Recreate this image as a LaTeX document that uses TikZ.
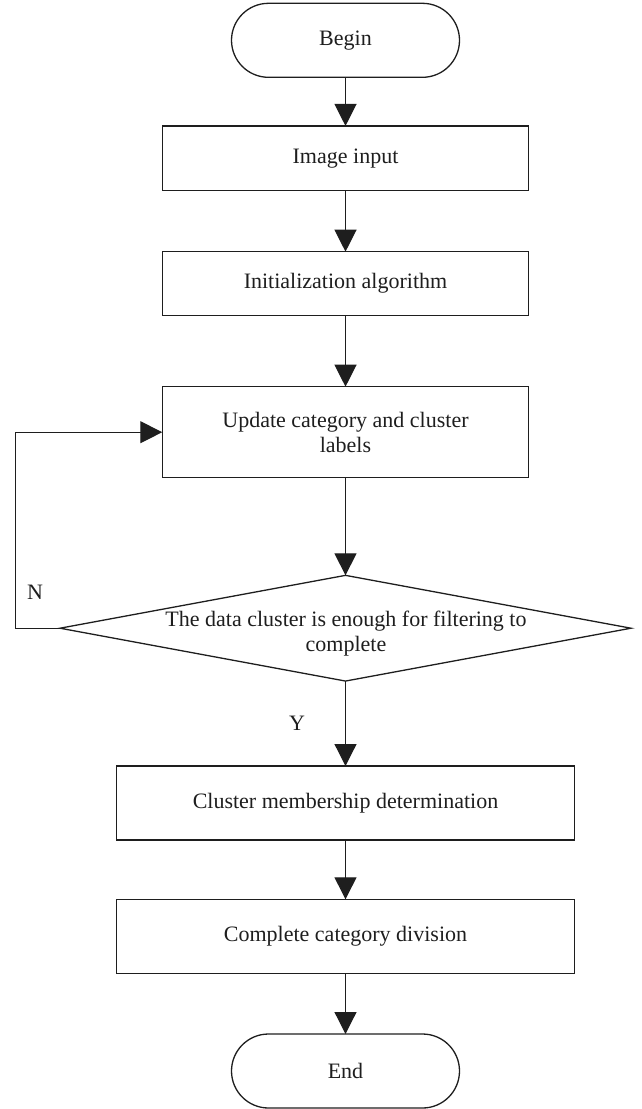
\documentclass[tikz,border=0pt]{standalone}
\usepackage{fontspec}
\setmainfont{Liberation Serif}
\usetikzlibrary{arrows.meta,shapes.geometric}
\definecolor{ink}{HTML}{1E1E1E}
\tikzset{
  base/.style={draw=ink, line width=1.3pt, inner sep=0pt, outer sep=0pt, text=ink,
    font=\fontsize{22}{25}\selectfont, align=center},
  term/.style={base, rounded corners=37pt, minimum width=228pt, minimum height=74pt},
  procbox/.style={base, minimum width=366.5pt},
  widebox/.style={base, minimum width=458pt, minimum height=74pt},
  conn/.style={draw=ink, line width=1.2pt, -{Triangle[length=22pt,width=22pt]}},
  lbl/.style={text=ink, font=\fontsize{22}{25}\selectfont, inner sep=0pt}
}
\begin{document}
\begin{tikzpicture}[x=1pt,y=1pt]
\useasboundingbox (0,0) rectangle (642,-1109);
\node[term] (begin) at (345.5,-40.3) {Begin};
\node[procbox, minimum height=64.7pt] (img) at (345.5,-158.3) {Image input};
\node[procbox, minimum height=63.6pt] (init) at (345.5,-283.5) {Initialization algorithm};
\node[procbox, minimum height=91pt] (upd) at (345.5,-432.2) {Update category and cluster\\labels};
\node[base, diamond, minimum width=571pt, minimum height=105.7pt] (dec) at (345.5,-628.2) {};
\node[lbl, align=center] (dtext) at (346,-633.5) {The data cluster is enough for filtering to\\complete};
\node[widebox] (clus) at (345.5,-803) {Cluster membership determination};
\node[widebox] (comp) at (345.5,-936.3) {Complete category division};
\node[term] (end) at (345.5,-1071) {End};
\coordinate (lc) at (15.7,-628.2);
\node[lbl] (n) at (35,-592.7) {N};
\node[lbl] (y) at (297,-723) {Y};
\draw[conn] (begin) -- (img);
\draw[conn] (img) -- (init);
\draw[conn] (init) -- (upd);
\draw[conn] (upd) -- (dec.north);
\draw[conn] (dec.south) -- (clus);
\draw[conn] (clus) -- (comp);
\draw[conn] (comp) -- (end);
\draw[conn] (dec.west) -- (lc) |- (upd.west);
\end{tikzpicture}
\end{document}
